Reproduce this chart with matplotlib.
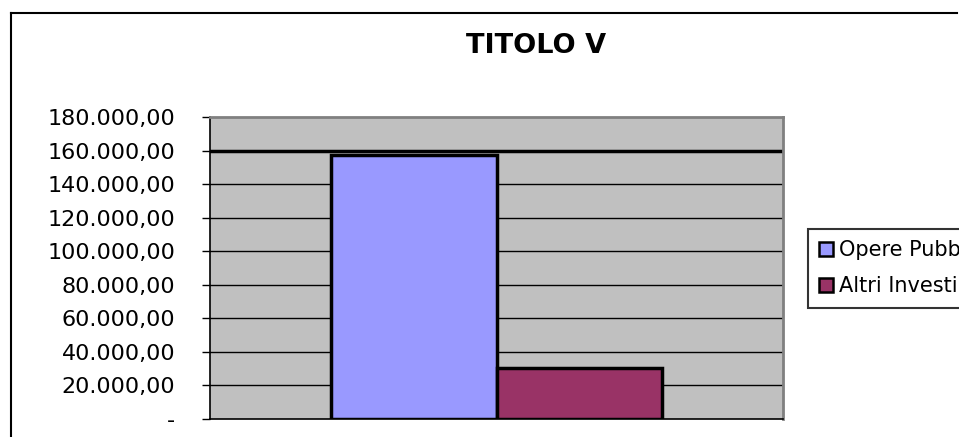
import matplotlib
matplotlib.use("Agg")
import matplotlib.pyplot as plt
from matplotlib.lines import Line2D
from matplotlib.patches import Patch
import numpy as np

title = "TITOLO V"
series_names = ["Opere Pubbliche", "Altri Investimenti"]
series_values = [157500, 30300]
series_colors = ["#9999FF", "#993366"]
y_ticks = [0, 20000, 40000, 60000, 80000, 100000, 120000, 140000, 160000, 180000]


def it_fmt(v):
    if v == 0:
        return "-"
    s = "{:,.2f}".format(v)
    return s.replace(",", "X").replace(".", ",").replace("X", ".")


W, H = 959, 437
fig = plt.figure(figsize=(W / 100, H / 100), dpi=100)
fig.patch.set_facecolor("white")

# outer chart border (cut off at right/bottom)
fig.add_artist(Line2D([11 / W, 11 / W], [0, 1 - 13 / H], color="black", lw=1.5))
fig.add_artist(Line2D([11 / W, 957 / W], [1 - 13 / H, 1 - 13 / H], color="black", lw=1.5))

ax = fig.add_axes([210 / W, 18 / H, 573 / W, 302 / H])
ax.set_facecolor("#C0C0C0")

width = 0.288
x = np.array([-width / 2, width / 2])
for xi, v, c in zip(x, series_values, series_colors):
    ax.bar(xi, v, width=width, color=c, edgecolor="black", linewidth=2.5, zorder=3)

ax.set_xlim(-0.5, 0.5)
ax.set_ylim(0, 180000)
ax.set_yticks(y_ticks)
ax.set_yticklabels([it_fmt(v) for v in y_ticks], fontsize=16)
ax.set_xticks([])

for v in y_ticks[1:-1]:
    lw = 2.5 if v == 160000 else 1.0
    ax.axhline(v, color="black", lw=lw, zorder=1)

for side in ["top", "right"]:
    ax.spines[side].set_color("#808080")
    ax.spines[side].set_linewidth(2)
ax.spines["left"].set_color("black")
ax.spines["left"].set_linewidth(1.2)
ax.spines["bottom"].set_color("black")
ax.spines["bottom"].set_linewidth(1.2)
ax.tick_params(axis="y", length=6, width=1, direction="out", pad=19)

fig.text(536 / W, 1 - 46 / H, title, ha="center", va="center",
         fontsize=19.5, fontweight="bold")

handles = [Patch(facecolor=c, edgecolor="black", linewidth=1.8) for c in series_colors]
leg = fig.legend(handles, series_names, loc="upper left",
                 bbox_to_anchor=(808 / W, 1 - 229 / H), fontsize=15,
                 frameon=True, fancybox=False, handlelength=0.65,
                 handleheight=0.65, handletextpad=0.3, borderpad=0.55,
                 labelspacing=0.75, borderaxespad=0)
leg.get_frame().set_edgecolor("black")
leg.get_frame().set_linewidth(1.5)

fig.savefig("out.png", dpi=100)
